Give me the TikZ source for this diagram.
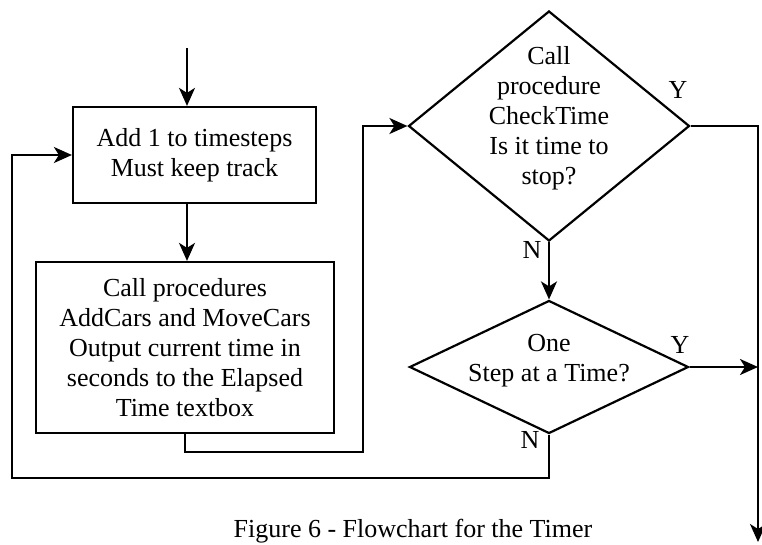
\documentclass[tikz,border=0pt]{standalone}
\usepackage{fontspec}
\setmainfont{Liberation Serif}
\usetikzlibrary{shapes.geometric,arrows.meta}
\begin{document}
\begin{tikzpicture}[x=1pt,y=-1pt,
  every node/.style={font=\fontsize{26}{30}\selectfont, text=black},
  arr/.style={line width=2.2pt, -{Stealth[length=18pt,width=16pt,inset=5pt]}},
  boxnode/.style={draw, line width=2.2pt, inner sep=0pt, align=center},
  dia/.style={draw, diamond, line width=2.2pt, inner sep=0pt},
  txt/.style={align=center, inner sep=0pt},
  lbl/.style={inner sep=0pt},
]
\useasboundingbox (0,0) rectangle (762,544);

% process boxes
\node[boxnode, minimum width=243pt, minimum height=96pt] (b1) at (194.5,155)
  {Add 1 to timesteps\\Must keep track};
\node[boxnode, minimum width=298pt, minimum height=171pt] (b2) at (185,347.5)
  {Call procedures\\AddCars and MoveCars\\Output current time in\\seconds to the Elapsed\\Time textbox};

% decisions
\node[dia, minimum width=281pt, minimum height=230pt] (d1) at (549,126) {};
\node[txt] (t1) at (549,118) {Call\\procedure\\CheckTime\\Is it time to\\stop?};
\node[dia, minimum width=279pt, minimum height=133pt] (d2) at (549,367) {};
\node[txt] (t2) at (549,361) {One\\Step at a Time?};

% branch labels
\node[lbl] (y1) at (678,90) {Y};
\node[lbl] (n1) at (532,250) {N};
\node[lbl] (y2) at (680,345) {Y};
\node[lbl] (n2) at (530,440) {N};

% caption
\node[lbl, anchor=base] (cap) at (413,537) {Figure 6 - Flowchart for the Timer};

% connectors
\coordinate (start) at (187,48);
\coordinate (c1) at (363,452);
\coordinate (rt) at (758,542);
\coordinate (lb) at (12,478);

\draw[arr] (start) -- (start |- b1.north);
\draw[arr] (b1.south -| start) -- (start |- b2.north);
\draw[arr] (b2.south) -- (b2.south |- c1) -- (c1) -- (c1 |- d1.west) -- (d1.west);
\draw[arr] (d1.east) -- (d1.east -| rt) -- (rt);
\draw[arr] (d1.south) -- (d2.north);
\draw[arr] (d2.east) -- (d2.east -| rt);
\draw[arr] (d2.south) -- (d2.south |- lb) -- (lb) -- (lb |- b1.west) -- (b1.west);
\end{tikzpicture}
\end{document}
